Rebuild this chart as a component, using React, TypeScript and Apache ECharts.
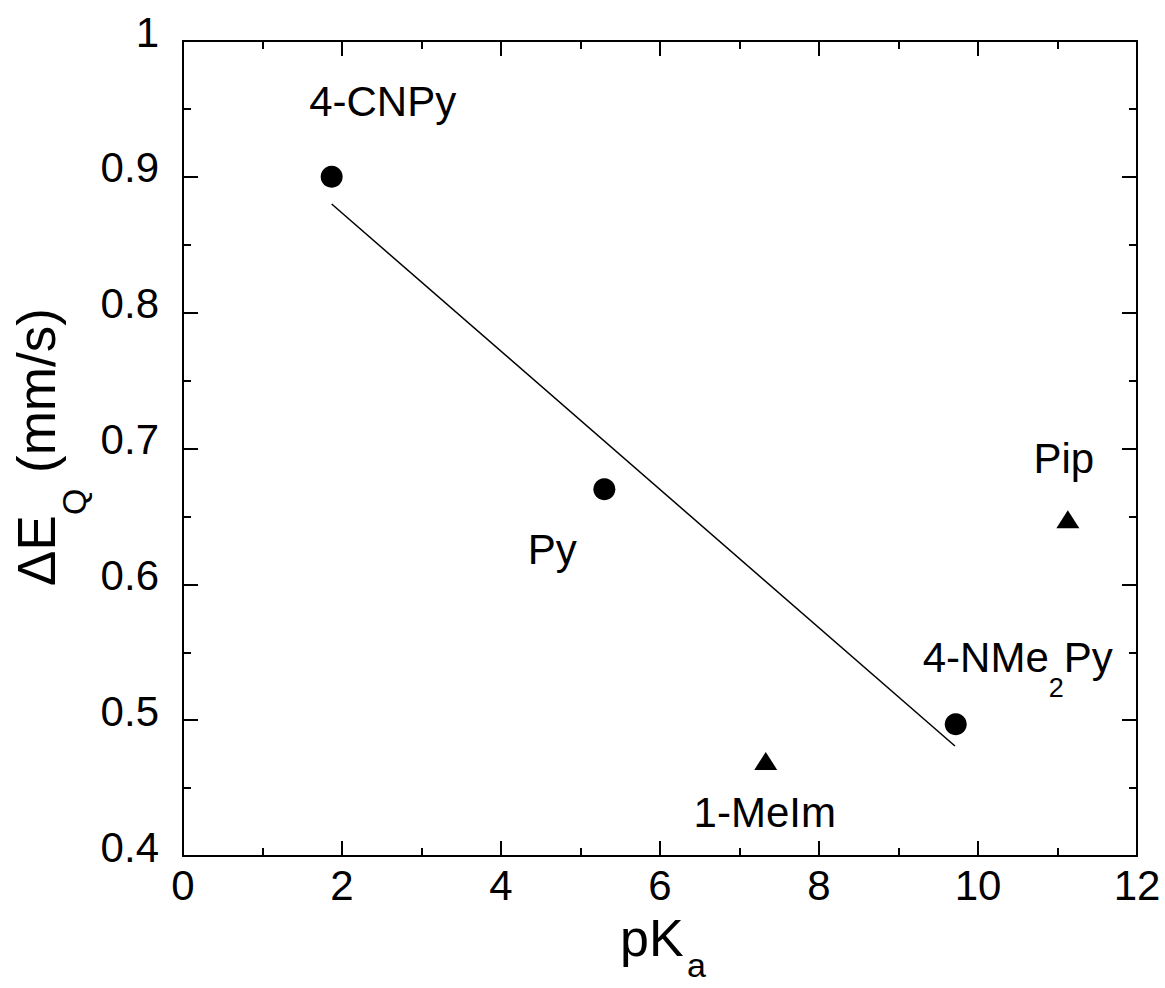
import React, { useEffect, useRef } from 'react';
import * as echarts from 'echarts';

// ---- data ----
const circleNames = ['4-CNPy', 'Py', '4-NMe2Py'];
const circleX = [1.87, 5.3, 9.72];
const circleY = [0.9, 0.67, 0.497];

const triangleNames = ['1-MeIm', 'Pip'];
const triangleX = [7.33, 11.13];
const triangleY = [0.47, 0.648];

const fitX = [1.87, 9.71];
const fitY = [0.88, 0.481];

const xRange = [0, 12];
const yRange = [0.4, 1];

// ---- styling ----
const FONT = '"Liberation Sans", Arial, Helvetica, sans-serif';
const BLACK = '#000';

// label offsets in pixels relative to the marker
const labelOffsets: Record<string, [number, number]> = {
  '4-CNPy': [51, -75],
  Py: [-52, 60],
  '4-NMe2Py': [62, -67],
  '1-MeIm': [-1, 52],
  Pip: [-4, -61],
};

const labelFormat = (name: string) =>
  name === '4-NMe2Py' ? '{m|4-NMe}{s|2}{m|Py}' : `{m|${name}}`;

const richLabel = {
  m: { fontSize: 42, fontFamily: FONT, color: BLACK, opacity: 1 },
  s: { fontSize: 27, fontFamily: FONT, color: BLACK, opacity: 1, padding: [62, 0, 0, 0] },
};

function buildPoints(names: string[], xs: number[], ys: number[]) {
  return names.map((n, i) => ({
    name: n,
    value: [xs[i], ys[i]],
    label: {
      show: true,
      position: 'inside',
      offset: labelOffsets[n],
      color: BLACK,
      opacity: 1,
      formatter: labelFormat(n),
      rich: richLabel,
    },
  }));
}

function axisCommon(isX: boolean, showLabels: boolean, position: string) {
  return {
    type: 'value',
    position,
    min: isX ? xRange[0] : yRange[0],
    max: isX ? xRange[1] : yRange[1],
    interval: isX ? 2 : 0.1,
    splitLine: { show: false },
    axisLine: { show: true, onZero: false, lineStyle: { color: BLACK, width: 2 } },
    axisTick: { show: true, inside: true, length: 15, lineStyle: { color: BLACK, width: 2 } },
    minorTick: { show: true, splitNumber: 2, length: 8, lineStyle: { color: BLACK, width: 2 } },
    minorSplitLine: { show: false },
    axisLabel: isX
      ? { show: showLabels, fontSize: 42, fontFamily: FONT, color: BLACK, margin: 8 }
      : {
          show: showLabels,
          fontSize: 42,
          fontFamily: FONT,
          color: BLACK,
          margin: 24,
          lineHeight: 18,
          formatter: (v: number) => `${v}\n `,
        },
  };
}

export default function App() {
  const ref = useRef<HTMLDivElement>(null);

  useEffect(() => {
    if (!ref.current) return;
    const chart = echarts.init(ref.current, undefined, { renderer: 'svg' });

    const option = {
      animation: false,
      backgroundColor: '#fff',
      grid: { left: 183, right: 28, top: 41, bottom: 132, containLabel: false },
      xAxis: [axisCommon(true, true, 'bottom'), axisCommon(true, false, 'top')],
      yAxis: [axisCommon(false, true, 'left'), axisCommon(false, false, 'right')],
      series: [
        {
          type: 'line',
          xAxisIndex: 0,
          yAxisIndex: 0,
          data: fitX.map((x, i) => [x, fitY[i]]),
          symbol: 'none',
          lineStyle: { color: BLACK, width: 1.5 },
          silent: true,
        },
        {
          type: 'scatter',
          xAxisIndex: 0,
          yAxisIndex: 0,
          symbol: 'circle',
          symbolSize: 22,
          itemStyle: { color: BLACK, opacity: 1 },
          data: buildPoints(circleNames, circleX, circleY),
        },
        {
          type: 'scatter',
          xAxisIndex: 0,
          yAxisIndex: 0,
          symbol: 'triangle',
          symbolSize: [23, 18],
          itemStyle: { color: BLACK, opacity: 1 },
          data: buildPoints(triangleNames, triangleX, triangleY),
        },
      ],
      graphic: [
        // x-axis title: pK_a
        {
          type: 'text',
          left: 620,
          top: 912,
          style: { text: 'pK', fontSize: 52, fontFamily: FONT, fill: BLACK },
        },
        {
          type: 'text',
          left: 687,
          top: 948,
          style: { text: 'a', fontSize: 34, fontFamily: FONT, fill: BLACK },
        },
        // y-axis title: ΔE_Q (mm/s), rotated
        {
          type: 'group',
          x: 36,
          y: 586,
          rotation: Math.PI / 2,
          children: [
            {
              type: 'text',
              x: 0,
              y: 0,
              style: {
                text: 'ΔE',
                fontSize: 53,
                fontFamily: FONT,
                fill: BLACK,
                align: 'left',
                verticalAlign: 'middle',
              },
            },
            {
              type: 'text',
              x: 71,
              y: 38,
              style: {
                text: 'Q',
                fontSize: 34,
                fontFamily: FONT,
                fill: BLACK,
                align: 'left',
                verticalAlign: 'middle',
              },
            },
            {
              type: 'text',
              x: 113,
              y: 0,
              style: {
                text: '(mm/s)',
                fontSize: 53,
                fontFamily: FONT,
                fill: BLACK,
                align: 'left',
                verticalAlign: 'middle',
              },
            },
          ],
        },
      ],
    };

    chart.setOption(option as any);
    return () => chart.dispose();
  }, []);

  return (
    <div
      ref={ref}
      style={{ position: 'fixed', left: 0, top: 0, width: 1165, height: 988, background: '#fff' }}
    />
  );
}
